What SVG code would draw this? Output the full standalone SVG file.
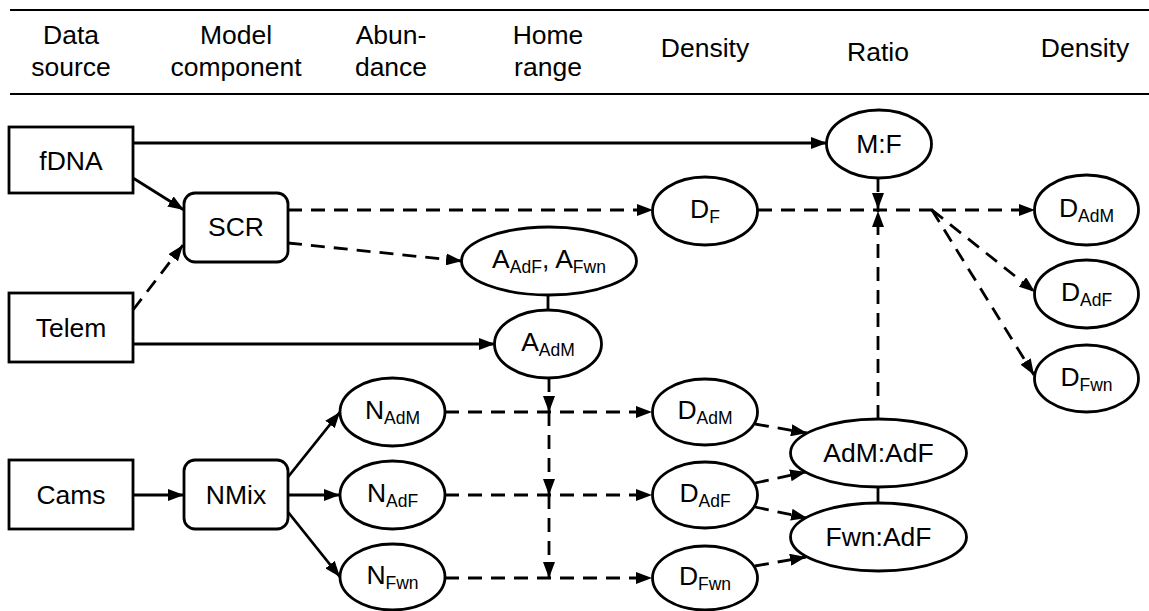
<svg xmlns="http://www.w3.org/2000/svg" width="1149" height="611" viewBox="0 0 1149 611">
<defs>
<marker id="ah" markerUnits="userSpaceOnUse" markerWidth="16" markerHeight="12" refX="16" refY="6" orient="auto"><path d="M0,0 L16,6 L0,12 z" fill="#000"/></marker>
</defs>
<style>
.t{font-family:"Liberation Sans",Arial,Helvetica,sans-serif;font-size:26.5px;fill:#000;text-anchor:middle}
.s{font-size:17.5px}
.n{fill:#fff;stroke:#000;stroke-width:2.8}
.c{fill:none;stroke:#000;stroke-width:2.8}
.d{stroke-dasharray:14 9}
.a{marker-end:url(#ah)}
.h{stroke:#000;stroke-width:2}
</style>
<rect width="1149" height="611" fill="#fff"/>
<g id="header">
<line class="h" x1="10" y1="10" x2="1149" y2="10"/>
<line class="h" x1="10" y1="94" x2="1149" y2="94"/>
<text class="t" x="71" y="44">Data</text>
<text class="t" x="71" y="76">source</text>
<text class="t" x="236" y="44">Model</text>
<text class="t" x="236" y="76">component</text>
<text class="t" x="391" y="44">Abun-</text>
<text class="t" x="391" y="76">dance</text>
<text class="t" x="548" y="44">Home</text>
<text class="t" x="548" y="76">range</text>
<text class="t" x="705" y="57">Density</text>
<text class="t" x="878" y="61">Ratio</text>
<text class="t" x="1085" y="57">Density</text>
</g>
<g id="connectors">
<line class="c a" x1="133" y1="143" x2="827" y2="143"/>
<line class="c a" x1="133" y1="178" x2="184" y2="210"/>
<line class="c d a" x1="133" y1="310" x2="183" y2="245"/>
<line class="c a" x1="133" y1="344" x2="495" y2="344"/>
<line class="c d a" x1="288" y1="210" x2="653" y2="210"/>
<line class="c d a" x1="288" y1="243" x2="462" y2="261"/>
<line class="c" x1="548" y1="295" x2="548" y2="310"/>
<line class="c d a" x1="758" y1="210" x2="1035" y2="210"/>
<line class="c d a" x1="878" y1="178" x2="878" y2="209"/>
<line class="c d a" x1="878" y1="419" x2="878" y2="211"/>
<line class="c d a" x1="932" y1="210" x2="1035" y2="292"/>
<line class="c d a" x1="932" y1="210" x2="1034" y2="375"/>
<line class="c a" x1="133" y1="495" x2="184" y2="495"/>
<line class="c a" x1="288" y1="477" x2="340" y2="412"/>
<line class="c a" x1="288" y1="495" x2="340" y2="495"/>
<line class="c a" x1="288" y1="512" x2="340" y2="577"/>
<line class="c d a" x1="549" y1="378" x2="549" y2="412"/>
<line class="c d a" x1="549" y1="412" x2="549" y2="495"/>
<line class="c d a" x1="549" y1="495" x2="549" y2="578"/>
<line class="c d a" x1="445" y1="412" x2="652" y2="412"/>
<line class="c d a" x1="445" y1="495" x2="652" y2="495"/>
<line class="c d a" x1="445" y1="578" x2="652" y2="578"/>
<line class="c d a" x1="755" y1="424" x2="807" y2="433"/>
<line class="c d a" x1="755" y1="483" x2="806" y2="472"/>
<line class="c d a" x1="755" y1="507" x2="807" y2="518"/>
<line class="c d a" x1="755" y1="566" x2="806" y2="557"/>
<line class="c" x1="878" y1="487" x2="878" y2="503"/>
</g>
<g id="fDNA"><rect class="n" x="9" y="127" width="124" height="66"/><text class="t" x="71" y="170">fDNA</text></g>
<g id="Telem"><rect class="n" x="9" y="293" width="124" height="69"/><text class="t" x="71" y="337">Telem</text></g>
<g id="Cams"><rect class="n" x="9" y="460" width="124" height="69"/><text class="t" x="71" y="504">Cams</text></g>
<g id="SCR"><rect class="n" x="184" y="193" width="104" height="69" rx="11"/><text class="t" x="236" y="236">SCR</text></g>
<g id="NMix"><rect class="n" x="184" y="460" width="104" height="69" rx="11"/><text class="t" x="236" y="504">NMix</text></g>
<g id="MF"><ellipse class="n" cx="879" cy="144" rx="52.5" ry="34"/><text class="t" x="879" y="153">M:F</text></g>
<g id="DF"><ellipse class="n" cx="705" cy="211" rx="52.5" ry="34"/><text class="t" x="705" y="218">D<tspan class="s" dy="5">F</tspan></text></g>
<g id="AAdF_AFwn"><ellipse class="n" cx="549" cy="261" rx="87.5" ry="34"/><text class="t" x="549" y="268">A<tspan class="s" dy="5">AdF</tspan><tspan dy="-5">, A</tspan><tspan class="s" dy="5">Fwn</tspan></text></g>
<g id="AAdM"><ellipse class="n" cx="548" cy="344" rx="53.5" ry="34"/><text class="t" x="548" y="351">A<tspan class="s" dy="5">AdM</tspan></text></g>
<g id="NAdM"><ellipse class="n" cx="392.5" cy="412" rx="52.5" ry="34"/><text class="t" x="392.5" y="419">N<tspan class="s" dy="5">AdM</tspan></text></g>
<g id="NAdF"><ellipse class="n" cx="392.5" cy="495" rx="52.5" ry="34"/><text class="t" x="392.5" y="502">N<tspan class="s" dy="5">AdF</tspan></text></g>
<g id="NFwn"><ellipse class="n" cx="392.5" cy="577" rx="52.5" ry="33"/><text class="t" x="392.5" y="584">N<tspan class="s" dy="5">Fwn</tspan></text></g>
<g id="DAdM"><ellipse class="n" cx="705" cy="412" rx="52.5" ry="33"/><text class="t" x="705" y="419">D<tspan class="s" dy="5">AdM</tspan></text></g>
<g id="DAdF"><ellipse class="n" cx="705" cy="495" rx="52.5" ry="33"/><text class="t" x="705" y="502">D<tspan class="s" dy="5">AdF</tspan></text></g>
<g id="DFwn"><ellipse class="n" cx="705" cy="578" rx="52.5" ry="32"/><text class="t" x="705" y="585">D<tspan class="s" dy="5">Fwn</tspan></text></g>
<g id="AdM_AdF"><ellipse class="n" cx="878.5" cy="453" rx="88" ry="34"/><text class="t" x="878.5" y="462">AdM:AdF</text></g>
<g id="Fwn_AdF"><ellipse class="n" cx="878.5" cy="537" rx="88" ry="34"/><text class="t" x="878.5" y="546">Fwn:AdF</text></g>
<g id="DAdM_r"><ellipse class="n" cx="1086.5" cy="210" rx="52" ry="35"/><text class="t" x="1086.5" y="217">D<tspan class="s" dy="5">AdM</tspan></text></g>
<g id="DAdF_r"><ellipse class="n" cx="1086.5" cy="294" rx="52" ry="34"/><text class="t" x="1086.5" y="301">D<tspan class="s" dy="5">AdF</tspan></text></g>
<g id="DFwn_r"><ellipse class="n" cx="1086.5" cy="378.5" rx="52" ry="33.5"/><text class="t" x="1086.5" y="385.5">D<tspan class="s" dy="5">Fwn</tspan></text></g>
</svg>
